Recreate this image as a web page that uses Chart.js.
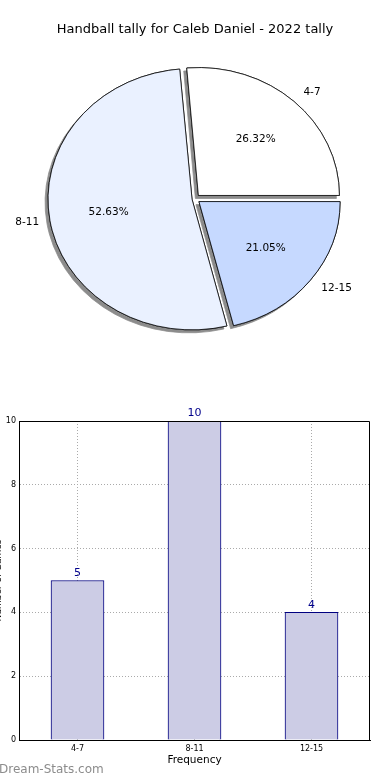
<!DOCTYPE html>
<html>
<head>
<meta charset="utf-8">
<title>Handball tally for Caleb Daniel - 2022 tally</title>
<script src="https://cdn.jsdelivr.net/npm/chart.js@4.4.0/dist/chart.umd.min.js"></script>
<style>
    html, body { margin: 0; padding: 0; background: #fff; }
    #wrap { position: relative; width: 390px; height: 780px; overflow: hidden; }
    #pieChart { position: absolute; left: 0; top: 0; width: 390px; height: 400px; }
    #barChart { position: absolute; left: 0; top: 400px; width: 390px; height: 380px; }
    #credit {
        position: absolute; left: -1px; top: 762px;
        font: 12px 'DejaVu Sans', sans-serif; color: #8c8c8c;
    }
</style>
</head>
<body>
<div id="wrap">
    <canvas id="pieChart" width="390" height="400"></canvas>
    <canvas id="barChart" width="390" height="380"></canvas>
    <div id="credit">Dream-Stats.com</div>
</div>
<script>
// ===============================
// Data
// ===============================
const categories = ['4-7', '8-11', '12-15'];
const counts = [5, 10, 4];
const yTicks = [0, 2, 4, 6, 8, 10];

const chartTitle = 'Handball tally for Caleb Daniel - 2022 tally';
const xTitle = 'Frequency';
const yTitle = 'Number of Games';

// ===============================
// Styles
// ===============================
const FONT = "'DejaVu Sans', sans-serif";
const sliceColors = ['#ffffff', '#eaf1ff', '#c6d9ff'];
const sliceOffsets = [20, 12, 20];   // explode (chart.js divides by 4)
const PIE_SQUASH = 0.907;            // pie is a little flattened in the original

// pie runs counter-clockwise from 3 o'clock, chart.js goes clockwise -> reverse
const pieOrder = [2, 1, 0];

// ===============================
// Pie plugin: squash + shadow + labels
// ===============================
const pieDecor = {
    id: 'pieDecor',
    beforeDatasetsDraw(chart) {
        const ctx = chart.ctx;
        const meta = chart.getDatasetMeta(0);
        const arc = meta.data[0];
        ctx.save();
        ctx.translate(arc.x, arc.y);
        ctx.scale(1, PIE_SQUASH);
        ctx.translate(-arc.x, -arc.y);

        // shadow pass first, the normal pass covers the inner part
        ctx.save();
        ctx.shadowColor = '#8c8c8c';
        ctx.shadowOffsetX = -3;
        ctx.shadowOffsetY = 3;
        ctx.shadowBlur = 0;
        meta.data.forEach(el => el.draw(ctx));
        ctx.restore();
    },
    afterDatasetsDraw(chart) {
        const ctx = chart.ctx;
        ctx.restore();

        const meta = chart.getDatasetMeta(0);
        const values = chart.data.datasets[0].data;
        const total = values.reduce((a, b) => a + b, 0);

        ctx.save();
        ctx.font = '10.5px ' + FONT;
        ctx.fillStyle = '#000';
        ctx.textBaseline = 'middle';
        meta.data.forEach((arc, i) => {
            const mid = (arc.startAngle + arc.endAngle) / 2;
            const cos = Math.cos(mid);
            const sin = Math.sin(mid);
            const shift = (arc.options.offset || 0) / 4;
            const r = arc.outerRadius;
            const cx = arc.x + cos * shift;
            const cy = arc.y + sin * shift * PIE_SQUASH;

            ctx.textAlign = 'center';
            const pct = (values[i] / total * 100).toFixed(2) + '%';
            ctx.fillText(pct, cx + cos * r * 0.6, cy + sin * r * 0.6 * PIE_SQUASH);

            ctx.textAlign = cos >= 0 ? 'left' : 'right';
            ctx.fillText(chart.data.labels[i], cx + cos * r * 1.1, cy + sin * r * 1.1 * PIE_SQUASH);
        });
        ctx.restore();
    }
};

// ===============================
// Bar plugin: frame + value labels
// ===============================
const barDecor = {
    id: 'barDecor',
    afterDraw(chart) {
        const ctx = chart.ctx;
        const a = chart.chartArea;
        ctx.save();
        ctx.strokeStyle = '#000';
        ctx.lineWidth = 1;
        ctx.beginPath();
        ctx.moveTo(Math.round(a.left), Math.round(a.top) + 0.5);
        ctx.lineTo(Math.round(a.right) - 0.5, Math.round(a.top) + 0.5);
        ctx.lineTo(Math.round(a.right) - 0.5, Math.round(a.bottom));
        ctx.stroke();

        const meta = chart.getDatasetMeta(0);
        const values = chart.data.datasets[0].data;
        ctx.font = '11px ' + FONT;
        ctx.fillStyle = '#00008b';
        ctx.textAlign = 'center';
        ctx.textBaseline = 'bottom';
        meta.data.forEach((bar, i) => {
            ctx.fillText(String(values[i]), bar.x, bar.y - 2);
        });
        ctx.restore();
    }
};

// ===============================
// Pie Chart
// ===============================
function initPie() {
    new Chart(document.getElementById('pieChart'), {
        type: 'pie',
        data: {
            labels: pieOrder.map(i => categories[i]),
            datasets: [{
                data: pieOrder.map(i => counts[i]),
                backgroundColor: pieOrder.map(i => sliceColors[i]),
                offset: pieOrder.map(i => sliceOffsets[i]),
                borderColor: '#000',
                borderWidth: 0.8
            }]
        },
        options: {
            responsive: false,
            animation: false,
            devicePixelRatio: 1,
            events: [],
            radius: 141,
            rotation: 90,
            layout: { padding: { top: 0, bottom: 44, left: 0, right: 0 } },
            plugins: {
                legend: { display: false },
                tooltip: { enabled: false },
                title: {
                    display: true,
                    text: chartTitle,
                    color: '#000',
                    font: { family: FONT, size: 13, weight: 'normal' },
                    padding: { top: 22, bottom: 4 }
                }
            }
        },
        plugins: [pieDecor]
    });
}

// ===============================
// Bar Chart
// ===============================
function initBar() {
    new Chart(document.getElementById('barChart'), {
        type: 'bar',
        data: {
            labels: categories,
            datasets: [{
                data: counts,
                backgroundColor: '#ccccE5',
                borderColor: '#000080',
                borderWidth: 1,
                barThickness: 53
            }]
        },
        options: {
            responsive: false,
            animation: false,
            devicePixelRatio: 1,
            events: [],
            layout: { padding: { top: 21, right: 20, left: 0, bottom: 0 } },
            plugins: {
                legend: { display: false },
                tooltip: { enabled: false }
            },
            scales: {
                x: {
                    z: 1,
                    grid: { offset: false, color: '#aaa', drawTicks: false },
                    border: { color: '#000', dash: [1, 2] },
                    ticks: { color: '#000', font: { family: FONT, size: 8 }, padding: 4 },
                    title: {
                        display: true, text: xTitle, color: '#000',
                        font: { family: FONT, size: 10.5 },
                        padding: { top: 0, bottom: 13 }
                    },
                    afterFit(scale) { scale.height = 40; }
                },
                y: {
                    z: 1,
                    min: 0,
                    max: 10,
                    afterBuildTicks(scale) { scale.ticks = yTicks.map(v => ({ value: v })); },
                    grid: { color: '#aaa', drawTicks: false },
                    border: { color: '#000', dash: [1, 2] },
                    ticks: { color: '#000', font: { family: FONT, size: 8 }, padding: 3 },
                    title: {
                        display: true, text: yTitle, color: '#000',
                        font: { family: FONT, size: 9 },
                        padding: { top: -7, bottom: 0 }
                    },
                    afterFit(scale) { scale.width = 19; }
                }
            }
        },
        plugins: [barDecor]
    });
}

document.addEventListener('DOMContentLoaded', () => {
    initPie();
    initBar();
});
</script>
</body>
</html>
